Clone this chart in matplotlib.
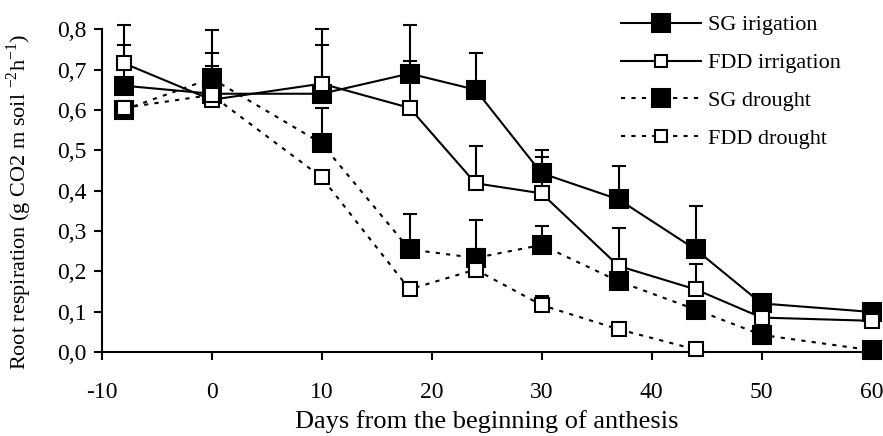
import numpy as np
import matplotlib
matplotlib.use("Agg")
import matplotlib.pyplot as plt

plt.rcParams['font.family'] = ['Liberation Serif', 'DejaVu Serif']
plt.rcParams['mathtext.fontset'] = 'custom'
plt.rcParams['mathtext.rm'] = 'Liberation Serif'
plt.rcParams['axes.unicode_minus'] = False

# Data
days = np.array([-8, 0, 10, 18, 24, 30, 37, 44, 50, 60])

sg_irr = np.array([0.66, 0.64, 0.64, 0.69, 0.65, 0.443, 0.378, 0.254, 0.12, 0.099])
sg_irr_err = np.array([0.10, 0.10, 0.12, 0.12, 0.09, 0.057, 0.082, 0.108, 0, 0])

fdd_irr = np.array([0.716, 0.625, 0.665, 0.605, 0.418, 0.393, 0.213, 0.155, 0.085, 0.077])
fdd_irr_err = np.array([0.094, 0.085, 0.135, 0.115, 0.093, 0.089, 0.093, 0.062, 0, 0])

sg_dr = np.array([0.60, 0.678, 0.517, 0.254, 0.233, 0.265, 0.175, 0.105, 0.042, 0.004])
sg_dr_err = np.array([0, 0.12, 0.088, 0.089, 0.094, 0.048, 0, 0, 0, 0])

fdd_dr_days = np.array([-8, 0, 10, 18, 24, 30, 37, 44])
fdd_dr = np.array([0.605, 0.637, 0.433, 0.155, 0.204, 0.116, 0.056, 0.006])
fdd_dr_err = np.array([0, 0, 0, 0, 0.052, 0.022, 0, 0])

yticks = [0.0, 0.1, 0.2, 0.3, 0.4, 0.5, 0.6, 0.7, 0.8]
ytick_labels = ['0,0', '0,1', '0,2', '0,3', '0,4', '0,5', '0,6', '0,7', '0,8']
xticks = [-10, 0, 10, 20, 30, 40, 50, 60]

fig = plt.figure(figsize=(8.83, 4.36), dpi=100)
ax = fig.add_axes([0.115, 0.193, 0.872, 0.74])

series = [
    (days, sg_irr, sg_irr_err, '-', 'black', 13.5, 'SG irigation'),
    (days, fdd_irr, fdd_irr_err, '-', 'white', 10, 'FDD irrigation'),
    (days, sg_dr, sg_dr_err, (0, (2, 3)), 'black', 13.5, 'SG drought'),
    (fdd_dr_days, fdd_dr, fdd_dr_err, (0, (2, 3)), 'white', 10, 'FDD drought'),
]

for x, y, e, ls, face, ms, label in series:
    m = e > 0
    eb = ax.errorbar(x[m], y[m], yerr=[np.zeros(m.sum()), e[m]], fmt='none',
                     ecolor='black', elinewidth=1.5, capsize=4.7, capthick=1.5, zorder=2)
    for art in eb.lines[1] + eb.lines[2]:
        art.set_clip_on(False)
    ax.plot(x, y, linestyle=ls, color='black', lw=1.5, marker='s', ms=ms,
            mfc=face, mec='black', mew=1.5, label=label, zorder=3, clip_on=False)

ax.set_xlim(-10, 60)
ax.set_ylim(0, 0.8)
ax.set_xticks(xticks)
ax.set_yticks(yticks)
ax.set_yticklabels(ytick_labels)
ax.tick_params(axis='both', labelsize=17, width=1.5, length=6, direction='out')
ax.tick_params(axis='x', pad=16)
ax.tick_params(axis='y', pad=5)
for s in ['top', 'right']:
    ax.spines[s].set_visible(False)
for s in ['left', 'bottom']:
    ax.spines[s].set_linewidth(1.5)

ax.set_xlabel('Days from the beginning of anthesis', fontsize=19, labelpad=5)
ax.set_ylabel('Root respiration (g CO2 m soil $^{\\mathregular{-2}}$h$^{\\mathregular{-1}}$)',
              fontsize=16)
ax.yaxis.set_label_coords(-0.088, 0.464)

leg = ax.legend(loc='upper left', bbox_to_anchor=(612 / 883, 1 - 6 / 436),
                bbox_transform=fig.transFigure, frameon=False, fontsize=16,
                handlelength=3.6, handletextpad=0.3, labelspacing=0.78, borderaxespad=0)
for h in leg.legend_handles[1::2]:
    h.set_markersize(8)

fig.savefig('out.png', dpi=100)
